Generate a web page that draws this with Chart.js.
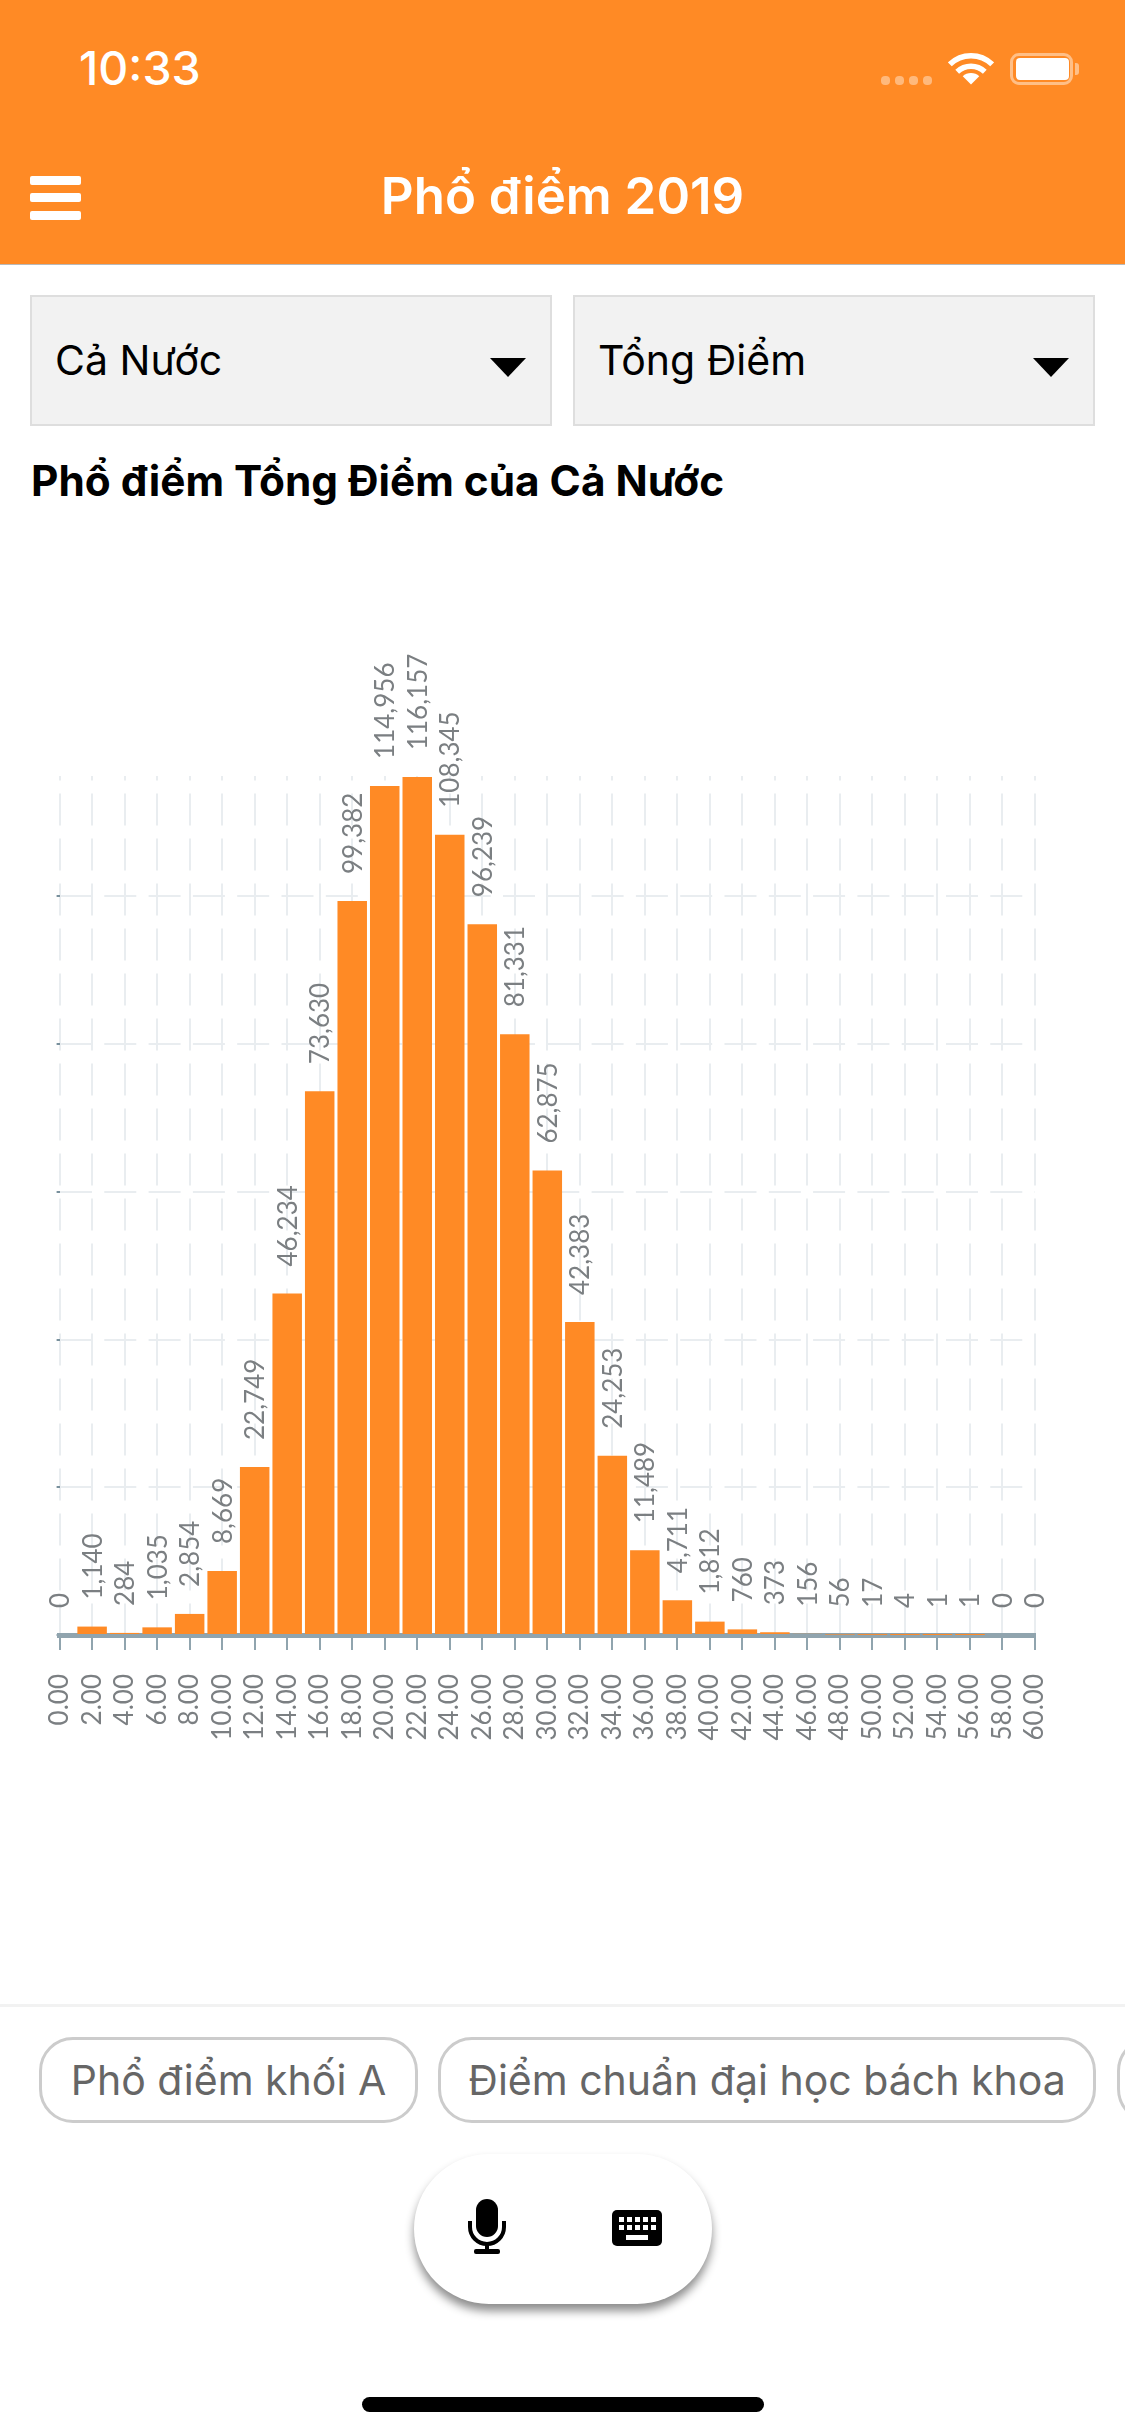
<!DOCTYPE html>
<html lang="vi">
<head>
<meta charset="utf-8">
<title>Phổ điểm 2019</title>
<script src="https://cdn.jsdelivr.net/npm/chart.js@4"></script>
<style>
  html, body { margin: 0; padding: 0; background: #fff; }
  body { width: 1125px; height: 2436px; position: relative; overflow: hidden; font-family: Inter, sans-serif; }
  .abs { position: absolute; white-space: nowrap; }
  #header { left: 0; top: 0; width: 1125px; height: 264px; background: #ff8a25; border-bottom: 1px solid #b9b9b9; }
  #time { left: 79px; top: 41px; font-size: 46.5px; font-weight: 500; color: #fff; line-height: 55px; }
  .sig { top: 76px; width: 9px; height: 9px; border-radius: 4px; background: rgba(255,255,255,.4); }
  .burger { left: 30px; width: 51px; height: 9px; border-radius: 2px; background: #fff; }
  #appTitle { left: 0; width: 1125px; top: 166px; text-align: center; font-size: 51px; font-weight: 600; color: #fff; line-height: 60px; }
  .select { top: 295px; height: 131px; box-sizing: border-box; background: #f2f2f2; border: 2px solid #dedede; }
  .selectText { top: 335px; font-size: 41px; line-height: 50px; color: #000; }
  .arrow { top: 358px; width: 0; height: 0; border-left: 18px solid transparent; border-right: 18px solid transparent; border-top: 19px solid #000; }
  #chartTitle { left: 31px; top: 456px; font-size: 42.3px; font-weight: 700; color: #000; line-height: 50px; }
  #chart { left: 0; top: 540px; }
  #divider { left: 0; top: 2004px; width: 1125px; height: 3px; background: #f2f2f2; }
  .chip { top: 2037px; height: 86px; box-sizing: border-box; border: 3px solid #ccc; border-radius: 34px; background: #fff; color: #666; font-size: 41px; line-height: 80px; text-align: center; }
  #voice { left: 414px; top: 2154px; width: 298px; height: 150px; border-radius: 75px; background: #fff; box-shadow: 0 7px 10px rgba(0,0,0,.45); }
  #homeBar { left: 362px; top: 2397px; width: 402px; height: 15px; border-radius: 8px; background: #000; }
</style>
</head>
<body>
<div class="abs" id="header"></div>
<div class="abs" id="time">10:33</div>
<div class="abs sig" style="left:881px"></div>
<div class="abs sig" style="left:895px"></div>
<div class="abs sig" style="left:909px"></div>
<div class="abs sig" style="left:923px"></div>
<svg class="abs" style="left:948px;top:51px" width="46" height="35" viewBox="0 0 50 37">
  <path d="M2 14 A33 33 0 0 1 48 14" fill="none" stroke="#fff" stroke-width="6"/>
  <path d="M10 22 A22 22 0 0 1 40 22" fill="none" stroke="#fff" stroke-width="6"/>
  <path d="M25 36 L16 27 A13 13 0 0 1 34 27 Z" fill="#fff"/>
</svg>
<div class="abs" style="left:1010px;top:53px;width:63px;height:32px;box-sizing:border-box;border:3px solid rgba(255,255,255,.45);border-radius:9px"></div>
<div class="abs" style="left:1016px;top:58px;width:53px;height:22px;border-radius:4px;background:#fff"></div>
<div class="abs" style="left:1075px;top:63px;width:4px;height:12px;border-radius:0 3px 3px 0;background:rgba(255,255,255,.45)"></div>

<div class="abs burger" style="top:176px"></div>
<div class="abs burger" style="top:193px"></div>
<div class="abs burger" style="top:211px"></div>
<div class="abs" id="appTitle">Phổ điểm 2019</div>

<div class="abs select" style="left:30px;width:522px"></div>
<div class="abs selectText" style="left:55px">Cả Nước</div>
<div class="abs arrow" style="left:490px"></div>
<div class="abs select" style="left:573px;width:522px"></div>
<div class="abs selectText" style="left:598px">Tổng Điểm</div>
<div class="abs arrow" style="left:1033px"></div>

<div class="abs" id="chartTitle">Phổ điểm Tổng Điểm của Cả Nước</div>

<canvas class="abs" id="chart" width="1125" height="1260" style="width:1125px;height:1260px"></canvas>

<div class="abs" id="divider"></div>
<div class="abs chip" style="left:39px;width:379px">Phổ điểm khối A</div>
<div class="abs chip" style="left:438px;width:658px">Điểm chuẩn đại học bách khoa</div>
<div class="abs chip" style="left:1117px;width:300px"></div>

<div class="abs" id="voice"></div>
<svg class="abs" style="left:466px;top:2198px" width="42" height="57" viewBox="0 0 42 57">
  <rect x="10" y="1" width="22" height="38" rx="11" fill="#000"/>
  <path d="M4 23 V29 A17 17 0 0 0 38 29 V23" fill="none" stroke="#000" stroke-width="4"/>
  <rect x="19" y="45" width="4" height="8" fill="#000"/>
  <rect x="8" y="51" width="26" height="5" rx="2" fill="#000"/>
</svg>
<svg class="abs" style="left:612px;top:2210px" width="50" height="36" viewBox="0 0 50 36">
  <rect width="50" height="36" rx="5" fill="#000"/>
  <g fill="#fff">
    <rect x="7" y="7" width="5" height="5"/><rect x="15" y="7" width="5" height="5"/><rect x="23" y="7" width="5" height="5"/><rect x="31" y="7" width="5" height="5"/><rect x="39" y="7" width="5" height="5"/>
    <rect x="7" y="15" width="5" height="5"/><rect x="15" y="15" width="5" height="5"/><rect x="23" y="15" width="5" height="5"/><rect x="31" y="15" width="5" height="5"/><rect x="39" y="15" width="5" height="5"/>
    <rect x="14" y="25" width="22" height="5"/>
  </g>
</svg>
<div class="abs" id="homeBar"></div>

<script>
const categories = ["0.00","2.00","4.00","6.00","8.00","10.00","12.00","14.00","16.00","18.00","20.00","22.00","24.00","26.00","28.00","30.00","32.00","34.00","36.00","38.00","40.00","42.00","44.00","46.00","48.00","50.00","52.00","54.00","56.00","58.00","60.00"];
const counts = [0,1140,284,1035,2854,8669,22749,46234,73630,99382,114956,116157,108345,96239,81331,62875,42383,24253,11489,4711,1812,760,373,156,56,17,4,1,1,0,0];
const yTicks = [0,20000,40000,60000,80000,100000];

const orange = "#ff8a25";
const axisColor = "#90a4ae";
const gridColor = "#e9edf0";
const labelColor = "#7b7f82";
const labelFont = "26px Lato, sans-serif";

// so tren dau moi cot, xoay doc
const barLabels = {
  id: "barLabels",
  afterDatasetsDraw(chart) {
    const { ctx } = chart;
    chart.getDatasetMeta(0).data.forEach((bar, i) => {
      ctx.save();
      ctx.translate(bar.x, bar.y - 27);
      ctx.rotate(-Math.PI / 2);
      ctx.font = labelFont;
      ctx.fillStyle = labelColor;
      ctx.textAlign = "left";
      ctx.textBaseline = "middle";
      ctx.fillText(counts[i].toLocaleString("en-US"), 0, 1);
      ctx.restore();
    });
  }
};

new Chart(document.getElementById("chart"), {
  type: "bar",
  data: {
    labels: categories,
    datasets: [{ data: counts, backgroundColor: orange, barThickness: 29.5, inflateAmount: 0, clip: false }]
  },
  options: {
    responsive: false,
    animation: false,
    layout: { padding: { left: 59.6, right: 90, top: 236, bottom: 0 } },
    plugins: { legend: { display: false }, tooltip: { enabled: false } },
    scales: {
      x: {
        offset: false,
        afterFit: (scale) => { scale.height = 165; },
        border: { display: true, color: axisColor, width: 5, dash: [32, 13], dashOffset: 27.4 },
        grid: { offset: false, color: gridColor, lineWidth: 2, tickColor: axisColor, tickWidth: 2, tickLength: 15 },
        ticks: {
          autoSkip: false, maxRotation: 90, minRotation: 90, padding: 24,
          color: labelColor, font: { family: "Lato, sans-serif", size: 26 }
        }
      },
      y: {
        min: 0,
        max: 116300,
        afterBuildTicks: (scale) => { scale.ticks = yTicks.map((value) => ({ value })); },
        afterFit: (scale) => { scale.width = 0; },
        border: { display: false, dash: [32, 12.3] },
        grid: { color: gridColor, lineWidth: 2, tickColor: "#78909c", tickWidth: 2, tickLength: 3 },
        ticks: { display: false }
      }
    }
  },
  plugins: [barLabels]
});
</script>
</body>
</html>
